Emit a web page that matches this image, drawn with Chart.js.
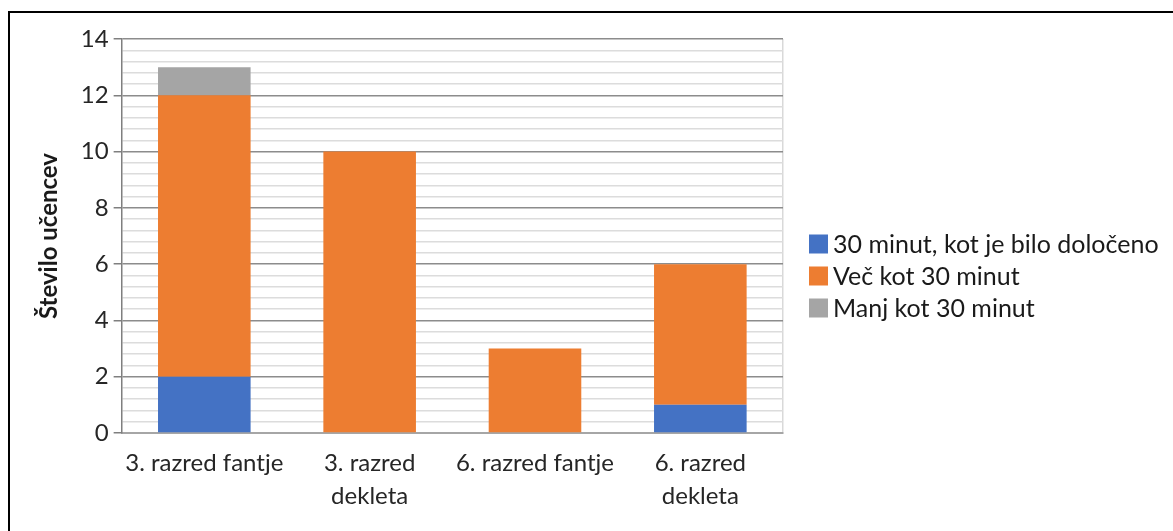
<!DOCTYPE html>
<html>
<head>
<meta charset="utf-8">
<script src="https://cdn.jsdelivr.net/npm/chart.js@4"></script>
<style>
  html, body { margin: 0; padding: 0; background: #fff; overflow: hidden; }
  #frame { position: absolute; left: 8px; top: 11px; width: 1250px; height: 600px; border: 2px solid #000; box-sizing: border-box; }
  #chart { position: absolute; left: 0; top: 0; }
</style>
</head>
<body>
<div id="frame"></div>
<canvas id="chart" width="1173" height="531"></canvas>
<script>
// data
const categories = ['3. razred fantje', ['3. razred', 'dekleta'], '6. razred fantje', ['6. razred', 'dekleta']];
const seriesNames = ['30 minut, kot je bilo določeno', 'Več kot 30 minut', 'Manj kot 30 minut'];
const onTime = [2, 0, 0, 1];
const moreThan = [10, 10, 3, 5];
const lessThan = [1, 0, 0, 0];
const yTicks = [0, 2, 4, 6, 8, 10, 12, 14];
const minorStep = 0.4;
const colors = ['#4472C4', '#ED7D31', '#A5A5A5'];

const yMax = yTicks[yTicks.length - 1];
const isMajor = v => yTicks.includes(v);

// legend drawn by hand on the right so the plot width stays put
const sideLegend = {
    id: 'sideLegend',
    afterDraw(chart) {
        const ctx = chart.ctx;
        const x = chart.chartArea.right + 26;
        let y = 244;
        ctx.save();
        ctx.font = '25px Lato';
        ctx.textBaseline = 'middle';
        chart.data.datasets.forEach(ds => {
            ctx.fillStyle = ds.backgroundColor;
            ctx.fillRect(x, y - 9.5, 19, 19);
            ctx.fillStyle = '#1a1a1a';
            ctx.fillText(ds.label, x + 24, y + 1);
            y += 32;
        });
        ctx.restore();
    }
};

new Chart(document.getElementById('chart'), {
    type: 'bar',
    data: {
        labels: categories,
        datasets: [
            { label: seriesNames[0], data: onTime, backgroundColor: colors[0] },
            { label: seriesNames[1], data: moreThan, backgroundColor: colors[1] },
            { label: seriesNames[2], data: lessThan, backgroundColor: colors[2] }
        ]
    },
    options: {
        responsive: false,
        animation: false,
        categoryPercentage: 1,
        barPercentage: 0.56,
        layout: { padding: { left: 35, top: 39, right: 390, bottom: 4 } },
        plugins: {
            legend: { display: false },
            tooltip: { enabled: false }
        },
        scales: {
            x: {
                stacked: true,
                grid: {
                    drawTicks: false,
                    color: ctx => ctx.type === 'tick' ? 'transparent' : '#d9d9d9',
                    lineWidth: 1.5
                },
                border: { color: '#a6a6a6', width: 2 },
                ticks: {
                    padding: 14,
                    maxRotation: 0,
                    autoSkip: false,
                    color: '#262626',
                    font: { family: 'Lato', size: 24, lineHeight: 1.375 }
                }
            },
            y: {
                stacked: true,
                min: 0,
                max: yMax,
                afterBuildTicks: scale => {
                    const t = [];
                    for (let i = 0; i * minorStep <= yMax + 1e-9; i++) {
                        t.push({ value: Math.round(i * minorStep * 10) / 10 });
                    }
                    scale.ticks = t;
                },
                grid: {
                    color: ctx => isMajor(ctx.tick.value) ? '#8c8c8c' : '#dcdcdc',
                    lineWidth: 1.5,
                    tickColor: ctx => isMajor(ctx.tick.value) ? '#7f7f7f' : 'transparent',
                    tickLength: 8
                },
                border: { color: '#7f7f7f', width: 1.5 },
                ticks: {
                    autoSkip: false,
                    padding: 5,
                    color: '#262626',
                    font: { family: 'Lato', size: 24 },
                    callback: value => isMajor(value) ? value : ''
                },
                title: {
                    display: true,
                    text: 'Število učencev',
                    color: '#1a1a1a',
                    font: { family: 'Lato', size: 24, weight: 'bold' },
                    padding: { top: 0, bottom: 12 }
                }
            }
        }
    },
    plugins: [sideLegend]
});
</script>
</body>
</html>
